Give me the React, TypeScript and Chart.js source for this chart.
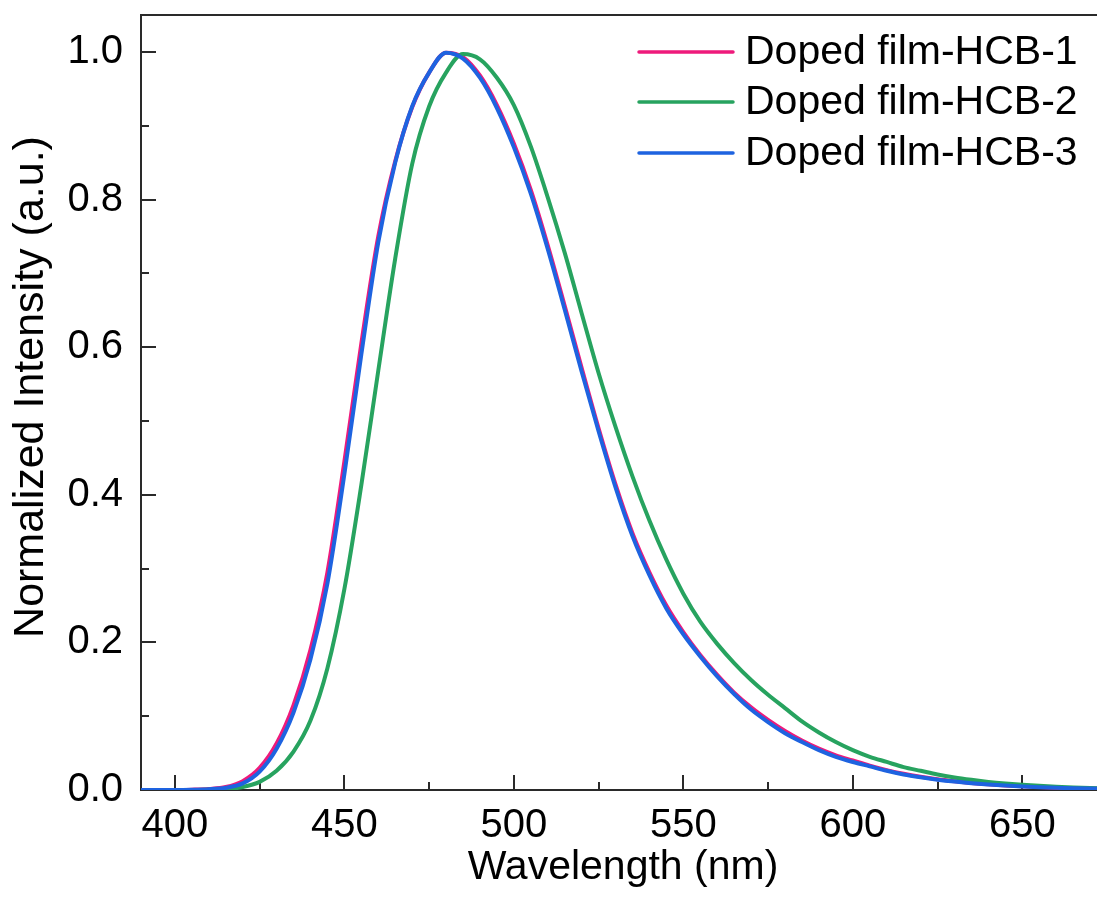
import React, { useEffect, useRef } from "react";
import { Chart, registerables } from "chart.js";

Chart.register(...registerables);

const wavelengths = [
  390, 395, 400, 405, 410, 415, 420, 425, 430, 435, 440, 445, 450, 455, 460, 465, 470, 475, 480, 485,
  490, 495, 500, 505, 510, 515, 520, 525, 530, 535, 540, 545, 550, 555, 560, 565, 570, 575, 580, 585,
  590, 595, 600, 605, 610, 615, 620, 625, 630, 635, 640, 645, 650, 655, 660, 665, 670, 675, 680,
];

const hcb1 = [
  0, 0, 0, 0.0005, 0.0015, 0.004, 0.012, 0.03, 0.063, 0.115, 0.19, 0.295, 0.445, 0.605, 0.75, 0.852, 0.925, 0.972, 0.999, 0.993,
  0.968, 0.928, 0.876, 0.813, 0.738, 0.656, 0.572, 0.49, 0.414, 0.348, 0.295, 0.25, 0.214, 0.183, 0.156, 0.132, 0.112, 0.095, 0.08, 0.067,
  0.056, 0.047, 0.04, 0.033, 0.027, 0.022, 0.018, 0.0147, 0.012, 0.0096, 0.0077, 0.0062, 0.005, 0.004, 0.0032, 0.0025, 0.002, 0.0016, 0.0012,
];

const hcb2 = [
  0, 0, 0, 0, 0.0004, 0.001, 0.004, 0.011, 0.026, 0.052, 0.094, 0.165, 0.272, 0.413, 0.568, 0.72, 0.848, 0.926, 0.972, 0.997,
  0.99, 0.965, 0.928, 0.872, 0.803, 0.728, 0.646, 0.565, 0.492, 0.425, 0.365, 0.312, 0.266, 0.228, 0.198, 0.172, 0.149, 0.129, 0.111, 0.093,
  0.078, 0.065, 0.054, 0.045, 0.038, 0.031, 0.026, 0.021, 0.017, 0.0138, 0.011, 0.0088, 0.007, 0.0056, 0.0044, 0.0035, 0.0028, 0.0022, 0.0017,
];

const hcb3 = [
  0, 0, 0, 0.0003, 0.001, 0.003, 0.009, 0.025, 0.056, 0.105, 0.177, 0.28, 0.428, 0.59, 0.742, 0.85, 0.926, 0.972, 0.999, 0.991,
  0.965, 0.924, 0.871, 0.808, 0.733, 0.651, 0.567, 0.486, 0.41, 0.344, 0.291, 0.246, 0.211, 0.181, 0.154, 0.13, 0.109, 0.092, 0.077, 0.065,
  0.054, 0.045, 0.038, 0.032, 0.026, 0.021, 0.0172, 0.014, 0.0114, 0.0092, 0.0074, 0.006, 0.0048, 0.0038, 0.003, 0.0024, 0.0019, 0.0015, 0.0011,
];

const seriesLabels = ["Doped film-HCB-1", "Doped film-HCB-2", "Doped film-HCB-3"];
const seriesColors = ["#EE1A7B", "#27A35F", "#1E63E0"];

const xMajorTicks = [400, 450, 500, 550, 600, 650];
const xMinorTicks = [425, 475, 525, 575, 625];
const yMajorTicks = [0, 0.2, 0.4, 0.6, 0.8, 1.0];
const yMinorTicks = [0.1, 0.3, 0.5, 0.7, 0.9];

const xTitle = "Wavelength (nm)";
const yTitle = "Normalized Intensity (a.u.)";

const FONT = "'Liberation Sans', Arial, sans-serif";

const framePlugin = {
  id: "frame",
  beforeDatasetsDraw(chart: any) {
    const { ctx, chartArea } = chart;
    const xs = chart.scales.x;
    const ys = chart.scales.y;
    ctx.save();
    ctx.strokeStyle = "#2a2a2a";
    ctx.lineWidth = 2;
    ctx.strokeRect(chartArea.left, chartArea.top, chartArea.right - chartArea.left, chartArea.bottom - chartArea.top);
    ctx.beginPath();
    xMajorTicks.forEach((v) => {
      const px = Math.round(xs.getPixelForValue(v));
      ctx.moveTo(px, chartArea.bottom);
      ctx.lineTo(px, chartArea.bottom - 15);
    });
    xMinorTicks.forEach((v) => {
      const px = Math.round(xs.getPixelForValue(v));
      ctx.moveTo(px, chartArea.bottom);
      ctx.lineTo(px, chartArea.bottom - 8);
    });
    yMajorTicks.forEach((v) => {
      const py = Math.round(ys.getPixelForValue(v));
      ctx.moveTo(chartArea.left, py);
      ctx.lineTo(chartArea.left + 15, py);
    });
    yMinorTicks.forEach((v) => {
      const py = Math.round(ys.getPixelForValue(v));
      ctx.moveTo(chartArea.left, py);
      ctx.lineTo(chartArea.left + 8, py);
    });
    ctx.stroke();
    ctx.restore();
  },
  afterDraw(chart: any) {
    const { ctx } = chart;
    ctx.save();
    ctx.fillStyle = "#000";
    ctx.textAlign = "center";
    ctx.textBaseline = "middle";
    ctx.font = `41px ${FONT}`;
    ctx.fillText(xTitle, 623, 868);
    ctx.save();
    ctx.font = `43px ${FONT}`;
    ctx.translate(31, 387);
    ctx.rotate(-Math.PI / 2);
    ctx.fillText(yTitle, 0, 0);
    ctx.restore();
    const rowY = [52, 102, 153];
    ctx.font = `41px ${FONT}`;
    chart.data.datasets.forEach((ds: any, i: number) => {
      ctx.strokeStyle = ds.borderColor;
      ctx.lineWidth = 3.5;
      ctx.lineCap = "round";
      ctx.beginPath();
      ctx.moveTo(639, rowY[i]);
      ctx.lineTo(733, rowY[i]);
      ctx.stroke();
      ctx.textAlign = "left";
      ctx.textBaseline = "middle";
      ctx.fillText(ds.label, 745, rowY[i] + 1);
    });
    ctx.restore();
  },
};

export default function App() {
  const canvasRef = useRef<HTMLCanvasElement | null>(null);

  useEffect(() => {
    if (!canvasRef.current) return;
    const series = [hcb1, hcb2, hcb3];
    const drawOrder = [3, 2, 1];
    const chart = new Chart(canvasRef.current, {
      type: "line",
      data: {
        datasets: series.map((vals, i) => ({
          label: seriesLabels[i],
          data: wavelengths.map((w, k) => ({ x: w, y: vals[k] })),
          borderColor: seriesColors[i],
          backgroundColor: seriesColors[i],
          borderWidth: 4,
          pointRadius: 0,
          order: drawOrder[i],
          cubicInterpolationMode: "monotone" as const,
          fill: false,
        })),
      },
      options: {
        animation: false,
        responsive: true,
        maintainAspectRatio: false,
        layout: { padding: { top: 15, right: 3, left: 0, bottom: 0 } },
        plugins: {
          legend: { display: false },
          tooltip: { enabled: false },
          title: { display: false },
        },
        scales: {
          x: {
            type: "linear",
            min: 390,
            max: 675,
            afterFit(scale: any) {
              scale.height = 107;
              scale.paddingLeft = 0;
              scale.paddingRight = 0;
            },
            afterBuildTicks(scale: any) {
              scale.ticks = xMajorTicks.map((v) => ({ value: v }));
            },
            grid: { display: false, drawTicks: false },
            border: { display: false },
            ticks: {
              color: "#000",
              font: { family: FONT, size: 40 },
              padding: 12,
              maxRotation: 0,
              autoSkip: false,
              callback: (v: any) => String(v),
            },
          },
          y: {
            type: "linear",
            min: 0,
            max: 1.05,
            afterFit(scale: any) {
              scale.width = 141;
              scale.paddingTop = 0;
              scale.paddingBottom = 0;
            },
            afterBuildTicks(scale: any) {
              scale.ticks = yMajorTicks.map((v) => ({ value: v }));
            },
            grid: { display: false, drawTicks: false },
            border: { display: false },
            ticks: {
              color: "#000",
              font: { family: FONT, size: 40 },
              padding: 18,
              autoSkip: false,
              callback: (v: any) => Number(v).toFixed(1),
            },
          },
        },
      },
      plugins: [framePlugin],
    });
    return () => chart.destroy();
  }, []);

  return (
    <div style={{ position: "fixed", left: 0, top: 0, width: 1110, height: 897, background: "#fff" }}>
      <canvas ref={canvasRef} />
    </div>
  );
}
